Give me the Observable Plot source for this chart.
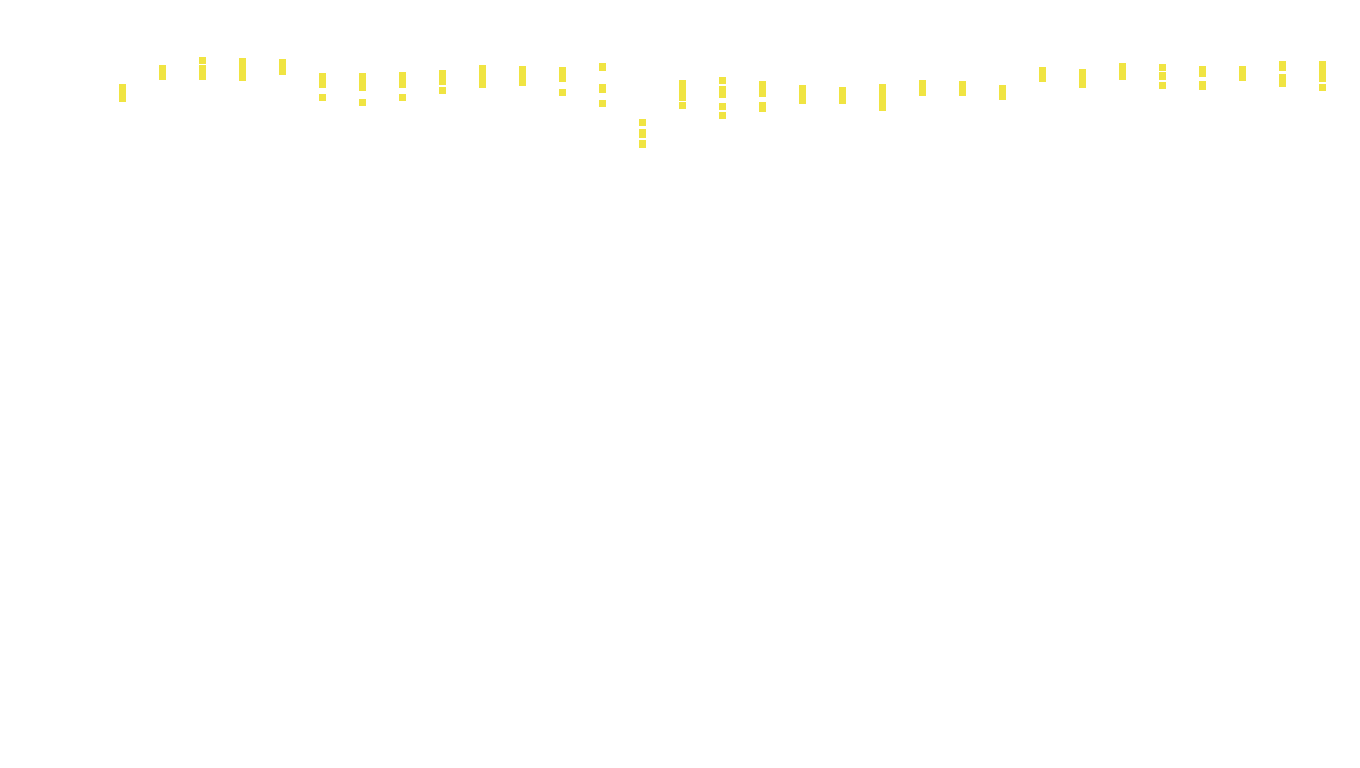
<!DOCTYPE html>
<html>
<head>
<meta charset="utf-8">
<script src="https://cdn.jsdelivr.net/npm/d3@7"></script>
<script src="https://cdn.jsdelivr.net/npm/@observablehq/plot@0.6"></script>
<style>
  html, body { margin: 0; padding: 0; background: #ffffff; }
  #chart svg { display: block; }
</style>
</head>
<body>
<div id="chart"></div>
<script>
// Column categories (31 periods)
const columns = d3.range(1, 32).map(String);

// Visible (yellow) segments: which column, lower and upper value
const segColumn = [
  1, 2, 3, 3, 4, 5, 6, 6, 7, 7, 8, 8, 9, 9, 10, 11, 12, 12,
  13, 13, 13, 14, 14, 14, 15, 15, 16, 16, 16, 16, 17, 17,
  18, 19, 20, 21, 22, 23, 24, 25, 26, 27, 27, 27, 28, 28,
  29, 30, 30, 31, 31
];
const segLow = [
  58, 80, 96, 80, 79, 85, 72, 59, 69, 54, 72, 59, 75, 66, 72, 74, 78, 64,
  89, 67, 53, 34, 22, 12, 59, 51, 76, 62, 50, 41, 63, 48,
  56, 56, 49, 64, 64, 60, 78, 72, 80, 89, 80, 71, 83, 70,
  79, 89, 73, 78, 69
];
const segHigh = [
  76, 95, 103, 95, 102, 101, 87, 66, 87, 61, 88, 66, 90, 73, 95, 94, 93, 71,
  97, 76, 60, 41, 31, 20, 80, 58, 83, 74, 57, 48, 79, 58,
  75, 73, 76, 80, 79, 75, 93, 91, 97, 96, 88, 78, 94, 79,
  94, 99, 86, 99, 76
];

const table = segColumn.map((c, i) => ({col: String(c), low: segLow[i], high: segHigh[i]}));

const chart = Plot.plot({
  width: 1360,
  height: 768,
  marginTop: 10,
  marginBottom: 608,
  marginLeft: 119,
  marginRight: 34,
  style: {background: "#ffffff"},
  x: {type: "band", domain: columns, paddingInner: 0.825, paddingOuter: 0, round: false, axis: null},
  y: {domain: [0, 150], axis: null},
  marks: [
    Plot.barY(table, {x: "col", y1: "low", y2: "high", fill: "#f0e442"})
  ]
});
document.getElementById("chart").append(chart);
</script>
</body>
</html>
